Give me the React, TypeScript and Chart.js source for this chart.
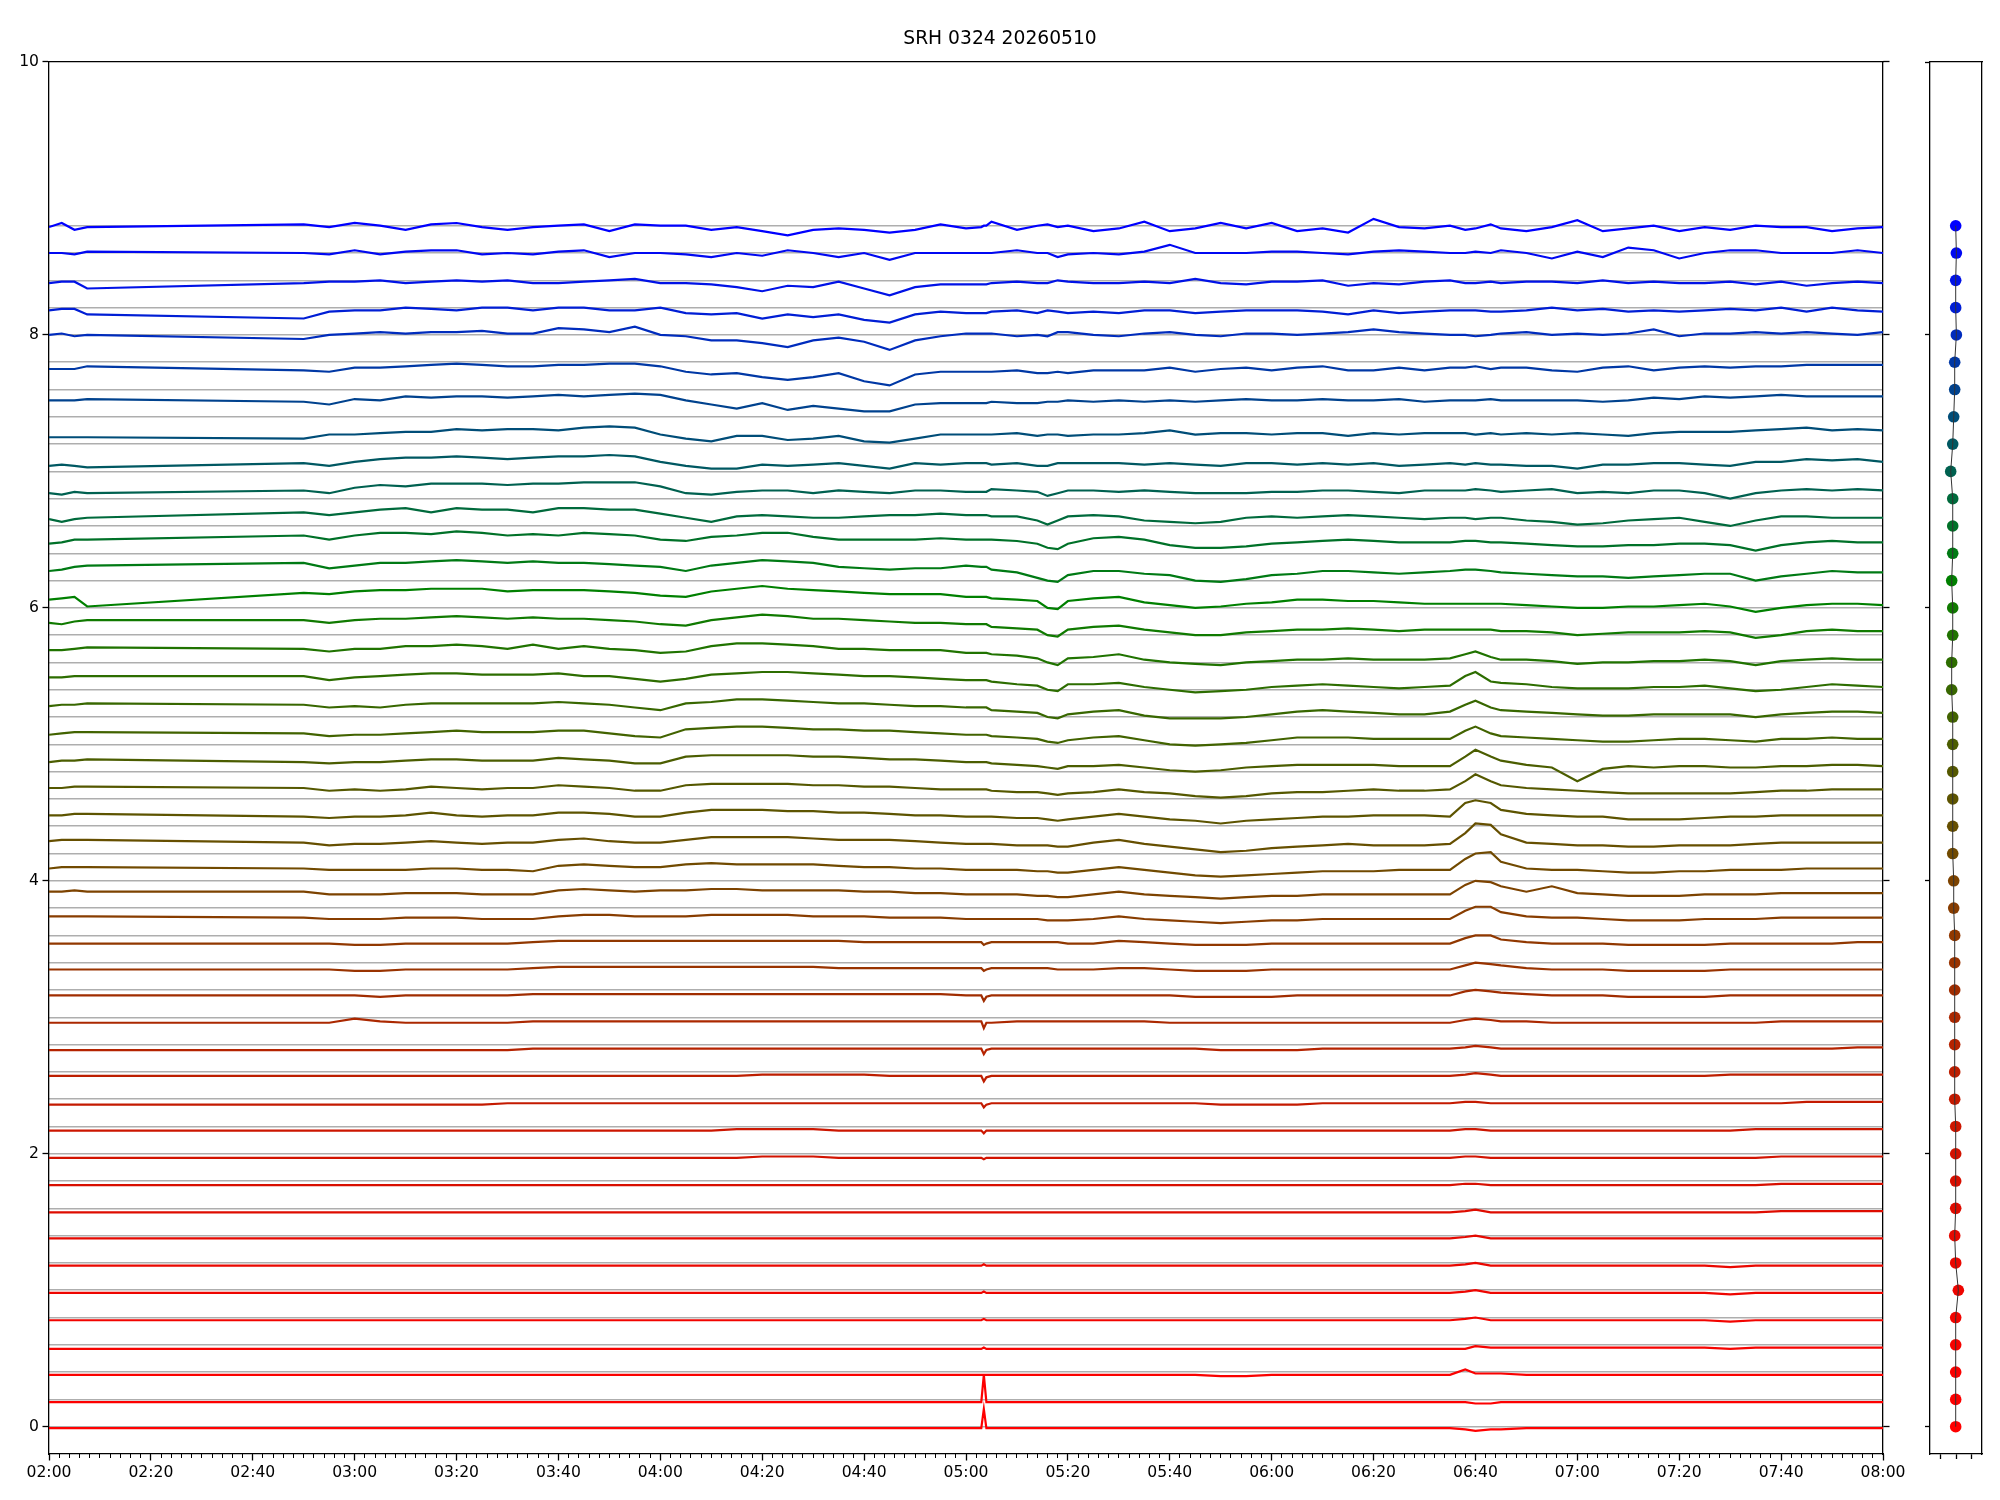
import React, { useEffect, useRef } from "react";
import { Chart, registerables } from "chart.js";

Chart.register(...registerables);

const TITLE = "SRH 0324 20260510";

// sample times, minutes after 02:00
const TIMES = [0, 2.5, 5, 7.5, 50, 55, 60, 65, 70, 75, 80, 85, 90, 95, 100, 105, 110, 115, 120, 125, 130, 135, 140, 145, 150, 155, 160, 165, 170, 175, 180, 183, 183.5, 184, 185, 190, 194, 196, 198, 200, 205, 210, 215, 220, 225, 230, 235, 240, 245, 250, 255, 260, 265, 270, 275, 278, 280, 283, 285, 290, 295, 300, 305, 310, 315, 320, 325, 330, 335, 340, 345, 350, 355, 360];

const X_TICK_LABELS = ["02:00", "02:20", "02:40", "03:00", "03:20", "03:40", "04:00", "04:20", "04:40", "05:00", "05:20", "05:40", "06:00", "06:20", "06:40", "07:00", "07:20", "07:40", "08:00"];

// channel levels (bottom to top)
const LEVELS = [0, 0.2, 0.4, 0.6, 0.8, 1.0, 1.2, 1.4, 1.6, 1.8, 2.0, 2.2, 2.4, 2.6, 2.8, 3.0, 3.2, 3.4, 3.6, 3.8, 4.0, 4.2, 4.4, 4.6, 4.8, 5.0, 5.2, 5.4, 5.6, 5.8, 6.0, 6.2, 6.4, 6.6, 6.8, 7.0, 7.2, 7.4, 7.6, 7.8, 8.0, 8.2, 8.4, 8.6, 8.8];

// right panel marker x positions
const SIDE_X = [0.494, 0.494, 0.494, 0.494, 0.494, 0.545, 0.494, 0.475, 0.494, 0.494, 0.494, 0.494, 0.475, 0.475, 0.475, 0.475, 0.475, 0.475, 0.475, 0.456, 0.456, 0.437, 0.437, 0.437, 0.437, 0.437, 0.437, 0.417, 0.417, 0.437, 0.437, 0.417, 0.437, 0.437, 0.437, 0.398, 0.437, 0.456, 0.475, 0.475, 0.507, 0.494, 0.494, 0.507, 0.494];

// offsets of each trace from its level, in hundredths
const OFF_0_0 = [-1,-1,-1,-1, -1,-1,-1,-1,-1,-1,-1,-1,-1,-1,-1,-1,-1,-1,-1, -1,-1,-1,-1,-1,-1,-1,-1,-1,-1,-1,-1, -1,13,-1,-1,-1,-1,-1,-1,-1, -1,-1,-1,-1,-1,-1,-1,-1,-1,-1,-1,-1,-1,-1,-1, -2,-3,-2, -2,-1,-1,-1,-1,-1,-1,-1,-1,-1,-1,-1,-1,-1,-1,-1];
const OFF_0_2 = [-2,-2,-2,-2, -2,-2,-2,-2,-2,-2,-2,-2,-2,-2,-2,-2,-2,-2,-2, -2,-2,-2,-2,-2,-2,-2,-2,-2,-2,-2,-2, -2,18,-2,-2,-2,-2,-2,-2,-2, -2,-2,-2,-2,-2,-2,-2,-2,-2,-2,-2,-2,-2,-2,-2, -2,-3,-3, -2,-2,-2,-2,-2,-2,-2,-2,-2,-2,-2,-2,-2,-2,-2,-2];
const OFF_0_4 = [-2,-2,-2,-2, -2,-2,-2,-2,-2,-2,-2,-2,-2,-2,-2,-2,-2,-2,-2, -2,-2,-2,-2,-2,-2,-2,-2,-2,-2,-2,-2, -2,-2,-2,-2,-2,-2,-2,-2,-2, -2,-2,-2,-2,-2,-3,-3,-2,-2,-2,-2,-2,-2,-2,-2, 2,-1,-1, -1,-2,-2,-2,-2,-2,-2,-2,-2,-2,-2,-2,-2,-2,-2,-2];
const OFF_0_6 = [-3,-3,-3,-3, -3,-3,-3,-3,-3,-3,-3,-3,-3,-3,-3,-3,-3,-3,-3, -3,-3,-3,-3,-3,-3,-3,-3,-3,-3,-3,-3, -3,-2,-3,-3,-3,-3,-3,-3,-3, -3,-3,-3,-3,-3,-3,-3,-3,-3,-3,-3,-3,-3,-3,-3, -3,-1,-2, -2,-2,-2,-2,-2,-2,-2,-2,-2,-3,-2,-2,-2,-2,-2,-2];
const OFF_0_8 = [-2,-2,-2,-2, -2,-2,-2,-2,-2,-2,-2,-2,-2,-2,-2,-2,-2,-2,-2, -2,-2,-2,-2,-2,-2,-2,-2,-2,-2,-2,-2, -2,-1,-2,-2,-2,-2,-2,-2,-2, -2,-2,-2,-2,-2,-2,-2,-2,-2,-2,-2,-2,-2,-2,-2, -1,0,-2, -2,-2,-2,-2,-2,-2,-2,-2,-2,-3,-2,-2,-2,-2,-2,-2];
const OFF_1_0 = [-2,-2,-2,-2, -2,-2,-2,-2,-2,-2,-2,-2,-2,-2,-2,-2,-2,-2,-2, -2,-2,-2,-2,-2,-2,-2,-2,-2,-2,-2,-2, -2,-1,-2,-2,-2,-2,-2,-2,-2, -2,-2,-2,-2,-2,-2,-2,-2,-2,-2,-2,-2,-2,-2,-2, -1,0,-2, -2,-2,-2,-2,-2,-2,-2,-2,-2,-3,-2,-2,-2,-2,-2,-2];
const OFF_1_2 = [-2,-2,-2,-2, -2,-2,-2,-2,-2,-2,-2,-2,-2,-2,-2,-2,-2,-2,-2, -2,-2,-2,-2,-2,-2,-2,-2,-2,-2,-2,-2, -2,-1,-2,-2,-2,-2,-2,-2,-2, -2,-2,-2,-2,-2,-2,-2,-2,-2,-2,-2,-2,-2,-2,-2, -1,0,-2, -2,-2,-2,-2,-2,-2,-2,-2,-2,-3,-2,-2,-2,-2,-2,-2];
const OFF_1_4 = [-2,-2,-2,-2, -2,-2,-2,-2,-2,-2,-2,-2,-2,-2,-2,-2,-2,-2,-2, -2,-2,-2,-2,-2,-2,-2,-2,-2,-2,-2,-2, -2,-2,-2,-2,-2,-2,-2,-2,-2, -2,-2,-2,-2,-2,-2,-2,-2,-2,-2,-2,-2,-2,-2,-2, -1,0,-2, -2,-2,-2,-2,-2,-2,-2,-2,-2,-2,-2,-2,-2,-2,-2,-2];
const OFF_1_6 = [-3,-3,-3,-3, -3,-3,-3,-3,-3,-3,-3,-3,-3,-3,-3,-3,-3,-3,-3, -3,-3,-3,-3,-3,-3,-3,-3,-3,-3,-3,-3, -3,-3,-3,-3,-3,-3,-3,-3,-3, -3,-3,-3,-3,-3,-3,-3,-3,-3,-3,-3,-3,-3,-3,-3, -2,-1,-3, -3,-3,-3,-3,-3,-3,-3,-3,-3,-3,-3,-2,-2,-2,-2,-2];
const OFF_1_8 = [-3,-3,-3,-3, -3,-3,-3,-3,-3,-3,-3,-3,-3,-3,-3,-3,-3,-3,-3, -3,-3,-3,-3,-3,-3,-3,-3,-3,-3,-3,-3, -3,-3,-3,-3,-3,-3,-3,-3,-3, -3,-3,-3,-3,-3,-3,-3,-3,-3,-3,-3,-3,-3,-3,-3, -2,-2,-3, -3,-3,-3,-3,-3,-3,-3,-3,-3,-3,-3,-2,-2,-2,-2,-2];
const OFF_2_0 = [-3,-3,-3,-3, -3,-3,-3,-3,-3,-3,-3,-3,-3,-3,-3,-3,-3,-3,-3, -3,-3,-3,-2,-2,-2,-3,-3,-3,-3,-3,-3, -3,-4,-3,-3,-3,-3,-3,-3,-3, -3,-3,-3,-3,-3,-3,-3,-3,-3,-3,-3,-3,-3,-3,-3, -2,-2,-3, -3,-3,-3,-3,-3,-3,-3,-3,-3,-3,-3,-2,-2,-2,-2,-2];
const OFF_2_2 = [-3,-3,-3,-3, -3,-3,-3,-3,-3,-3,-3,-3,-3,-3,-3,-3,-3,-3,-3, -3,-3,-2,-2,-2,-2,-3,-3,-3,-3,-3,-3, -3,-5,-3,-3,-3,-3,-3,-3,-3, -3,-3,-3,-3,-3,-3,-3,-3,-3,-3,-3,-3,-3,-3,-3, -2,-2,-3, -3,-3,-3,-3,-3,-3,-3,-3,-3,-3,-2,-2,-2,-2,-2,-2];
const OFF_2_4 = [-4,-4,-4,-4, -4,-4,-4,-4,-4,-4,-4,-4,-3,-3,-3,-3,-3,-3,-3, -3,-3,-3,-3,-3,-3,-3,-3,-3,-3,-3,-3, -3,-6,-4,-3,-3,-3,-3,-3,-3, -3,-3,-3,-3,-3,-4,-4,-4,-4,-3,-3,-3,-3,-3,-3, -2,-2,-3, -3,-3,-3,-3,-3,-3,-3,-3,-3,-3,-3,-3,-2,-2,-2,-2];
const OFF_2_6 = [-3,-3,-3,-3, -3,-3,-3,-3,-3,-3,-3,-3,-3,-3,-3,-3,-3,-3,-3, -3,-3,-3,-2,-2,-2,-2,-2,-3,-3,-3,-3, -3,-7,-4,-3,-3,-3,-3,-3,-3, -3,-3,-3,-3,-3,-3,-3,-3,-3,-3,-3,-3,-3,-3,-3, -2,-1,-2, -3,-3,-3,-3,-3,-3,-3,-3,-3,-2,-2,-2,-2,-2,-2,-2];
const OFF_2_8 = [-4,-4,-4,-4, -4,-4,-4,-4,-4,-4,-4,-4,-4,-3,-3,-3,-3,-3,-3, -3,-3,-3,-3,-3,-3,-3,-3,-3,-3,-3,-3, -3,-7,-4,-3,-3,-3,-3,-3,-3, -3,-3,-3,-3,-3,-4,-4,-4,-4,-3,-3,-3,-3,-3,-3, -2,-1,-2, -3,-3,-3,-3,-3,-3,-3,-3,-3,-3,-3,-3,-3,-3,-2,-2];
const OFF_3_0 = [-4,-4,-4,-4, -4,-4,-1,-3,-4,-4,-4,-4,-4,-3,-3,-3,-3,-3,-3, -3,-3,-3,-3,-3,-3,-3,-3,-3,-3,-3,-3, -3,-8,-4,-4,-3,-3,-3,-3,-3, -3,-3,-3,-4,-4,-4,-4,-4,-4,-4,-4,-4,-4,-4,-4, -2,-1,-2, -3,-3,-4,-4,-4,-4,-4,-4,-4,-4,-4,-3,-3,-3,-3,-3];
const OFF_3_2 = [-4,-4,-4,-4, -4,-4,-4,-5,-4,-4,-4,-4,-4,-3,-3,-3,-3,-3,-3, -3,-3,-3,-3,-3,-3,-3,-3,-3,-3,-3,-4, -4,-8,-5,-4,-4,-4,-4,-4,-4, -4,-4,-4,-4,-5,-5,-5,-5,-4,-4,-4,-4,-4,-4,-4, -1,0,-1, -2,-3,-4,-4,-4,-5,-5,-5,-5,-4,-4,-4,-4,-4,-4,-4];
const OFF_3_4 = [-5,-5,-5,-5, -5,-5,-6,-6,-5,-5,-5,-5,-5,-4,-3,-3,-3,-3,-3, -3,-3,-3,-3,-3,-3,-4,-4,-4,-4,-4,-4, -4,-6,-5,-4,-4,-4,-4,-5,-5, -5,-4,-4,-5,-6,-6,-6,-5,-5,-5,-5,-5,-5,-5,-5, -2,0,-1, -2,-4,-5,-5,-5,-6,-6,-6,-6,-5,-5,-5,-5,-5,-5,-5];
const OFF_3_6 = [-6,-6,-6,-6, -6,-6,-7,-7,-6,-6,-6,-6,-6,-5,-4,-4,-4,-4,-4, -4,-4,-4,-4,-4,-4,-4,-5,-5,-5,-5,-5, -5,-7,-6,-5,-5,-5,-5,-5,-6, -6,-4,-5,-6,-7,-7,-7,-6,-6,-6,-6,-6,-6,-6,-6, -2,0,0, -3,-5,-6,-6,-6,-7,-7,-7,-7,-6,-6,-6,-6,-6,-5,-5];
const OFF_3_8 = [-6,-6,-6,-6, -7,-8,-8,-8,-7,-7,-7,-8,-8,-8,-6,-5,-5,-6,-6, -6,-5,-5,-5,-5,-6,-6,-6,-7,-7,-7,-8, -8,-8,-8,-8,-8,-8,-9,-9,-9, -8,-6,-8,-9,-10,-11,-10,-9,-9,-8,-8,-8,-8,-8,-8, -2,1,1, -3,-6,-7,-7,-8,-9,-9,-9,-8,-8,-8,-7,-7,-7,-7,-7];
const OFF_4_0 = [-8,-8,-7,-8, -8,-10,-10,-10,-9,-9,-9,-10,-10,-10,-7,-6,-7,-8,-7, -7,-6,-6,-7,-7,-7,-7,-8,-8,-9,-9,-10, -10,-10,-10,-10,-10,-11,-11,-12,-12, -10,-8,-10,-11,-12,-13,-12,-11,-11,-10,-10,-10,-10,-10,-10, -3,0,-1, -4,-8,-4,-9,-10,-11,-11,-11,-10,-10,-10,-9,-9,-9,-9,-9];
const OFF_4_2 = [-11,-10,-10,-10, -11,-12,-12,-12,-12,-11,-11,-12,-12,-13,-9,-8,-9,-10,-10, -8,-7,-8,-8,-8,-8,-9,-10,-10,-11,-11,-12, -12,-12,-12,-12,-12,-13,-13,-14,-14, -12,-10,-12,-14,-16,-17,-16,-15,-14,-13,-13,-13,-12,-12,-12, -4,0,1, -6,-11,-12,-12,-13,-14,-14,-13,-13,-12,-12,-12,-11,-11,-11,-11];
const OFF_4_4 = [-11,-10,-10,-10, -12,-14,-13,-13,-12,-11,-12,-13,-12,-12,-10,-9,-11,-12,-12, -10,-8,-8,-8,-8,-9,-10,-10,-10,-11,-12,-13, -13,-13,-13,-13,-14,-14,-14,-15,-15, -12,-10,-13,-15,-17,-19,-18,-16,-15,-14,-13,-14,-14,-14,-13, -5,2,1, -6,-12,-13,-14,-14,-15,-15,-14,-14,-14,-13,-12,-12,-12,-12,-12];
const OFF_4_6 = [-12,-12,-11,-11, -13,-14,-13,-13,-12,-10,-12,-13,-12,-12,-10,-10,-11,-13,-13, -10,-8,-8,-8,-9,-9,-10,-10,-11,-12,-12,-13, -13,-13,-13,-13,-14,-14,-15,-16,-15, -13,-11,-13,-15,-16,-18,-16,-15,-14,-13,-13,-12,-12,-12,-13, -3,-1,-3, -8,-11,-12,-13,-13,-15,-15,-15,-14,-13,-13,-12,-12,-12,-12,-12];
const OFF_4_8 = [-12,-12,-11,-11, -12,-14,-13,-14,-13,-11,-12,-13,-12,-12,-10,-11,-12,-14,-14, -10,-9,-9,-9,-9,-10,-10,-11,-11,-12,-13,-13, -13,-13,-13,-14,-15,-15,-16,-17,-16, -15,-13,-15,-16,-18,-19,-18,-16,-15,-15,-14,-13,-14,-14,-13, -7,-2,-7, -10,-12,-13,-14,-15,-16,-16,-16,-16,-16,-15,-14,-14,-13,-13,-13];
const OFF_5_0 = [-13,-12,-12,-11, -13,-14,-13,-13,-12,-11,-11,-12,-12,-12,-10,-11,-12,-14,-14, -9,-8,-8,-8,-8,-9,-9,-10,-11,-11,-12,-13, -13,-13,-13,-14,-15,-16,-17,-18,-16, -16,-15,-17,-19,-20,-19,-17,-16,-15,-15,-15,-15,-16,-16,-16, -9,-4,-9, -12,-15,-17,-27,-18,-16,-17,-16,-16,-17,-17,-16,-16,-15,-15,-16];
const OFF_5_2 = [-13,-12,-11,-11, -12,-14,-13,-13,-12,-11,-10,-11,-11,-11,-10,-10,-12,-14,-15, -9,-8,-7,-7,-8,-9,-9,-10,-10,-11,-12,-13, -13,-13,-13,-14,-15,-16,-18,-19,-17, -15,-14,-17,-20,-21,-20,-19,-17,-15,-15,-15,-16,-16,-16,-16, -10,-7,-12, -14,-15,-16,-17,-18,-18,-17,-16,-16,-17,-18,-16,-16,-15,-16,-16];
const OFF_5_4 = [-12,-11,-11,-10, -11,-13,-12,-13,-11,-10,-10,-10,-10,-10,-9,-10,-11,-13,-15, -10,-9,-7,-7,-8,-9,-10,-10,-11,-12,-12,-13, -13,-13,-13,-15,-16,-17,-20,-21,-18, -16,-15,-19,-21,-21,-21,-20,-18,-16,-15,-16,-17,-18,-18,-16, -11,-8,-13, -15,-16,-17,-18,-19,-19,-18,-18,-18,-18,-20,-18,-17,-16,-16,-17];
const OFF_5_6 = [-11,-11,-10,-10, -10,-13,-11,-10,-9,-8,-8,-9,-9,-9,-8,-10,-10,-12,-14, -12,-9,-8,-7,-7,-8,-9,-10,-10,-11,-12,-13, -13,-13,-13,-14,-16,-17,-20,-21,-16, -16,-15,-18,-20,-22,-21,-20,-18,-17,-16,-17,-18,-19,-18,-17, -10,-7,-14, -15,-16,-18,-19,-19,-19,-18,-18,-17,-19,-21,-20,-18,-16,-17,-18];
const OFF_5_8 = [-11,-11,-10,-9, -10,-12,-10,-10,-8,-8,-7,-8,-10,-7,-10,-8,-10,-11,-13, -12,-8,-6,-6,-7,-8,-10,-10,-11,-11,-11,-13, -13,-13,-13,-14,-15,-17,-20,-22,-17, -16,-14,-18,-20,-21,-22,-20,-19,-18,-18,-17,-18,-18,-18,-17, -14,-12,-16, -18,-18,-19,-21,-20,-20,-19,-19,-18,-19,-22,-19,-18,-17,-18,-18];
const OFF_6_0 = [-11,-12,-10,-9, -9,-11,-9,-8,-8,-7,-6,-7,-8,-7,-8,-8,-9,-10,-12, -13,-9,-7,-5,-6,-8,-8,-9,-10,-11,-11,-12, -12,-12,-12,-14,-15,-16,-20,-21,-16, -14,-13,-16,-18,-20,-20,-18,-17,-16,-16,-15,-16,-17,-16,-16, -16,-16,-16, -17,-17,-18,-20,-19,-18,-18,-18,-17,-18,-22,-20,-17,-16,-17,-17];
const OFF_6_2 = [-14,-13,-12,-19, -9,-10,-8,-7,-7,-6,-6,-6,-8,-7,-7,-7,-8,-9,-11, -12,-8,-6,-4,-6,-7,-8,-9,-10,-10,-10,-12, -12,-12,-12,-13,-14,-15,-20,-21,-15, -13,-12,-16,-18,-20,-19,-17,-16,-14,-14,-15,-15,-16,-17,-17, -17,-17,-17, -17,-18,-19,-20,-20,-19,-19,-18,-17,-19,-23,-20,-18,-17,-17,-18];
const OFF_6_4 = [-13,-12,-10,-9, -7,-11,-9,-7,-7,-6,-5,-6,-7,-6,-7,-7,-8,-9,-10, -13,-9,-7,-5,-6,-7,-10,-11,-12,-11,-11,-9, -10,-10,-10,-12,-14,-18,-20,-21,-16, -13,-13,-15,-16,-20,-21,-19,-16,-15,-13,-13,-14,-15,-14,-13, -12,-12,-13, -14,-15,-16,-17,-17,-18,-17,-16,-15,-15,-20,-17,-15,-13,-14,-14];
const OFF_6_6 = [-13,-12,-10,-10, -7,-10,-7,-5,-5,-6,-4,-5,-7,-6,-7,-5,-6,-7,-10, -11,-8,-7,-5,-5,-8,-10,-10,-10,-10,-9,-10, -10,-10,-10,-10,-11,-13,-16,-17,-13, -9,-8,-10,-14,-16,-16,-15,-13,-12,-11,-10,-11,-12,-12,-12, -11,-11,-12, -12,-13,-14,-15,-15,-14,-14,-13,-13,-14,-18,-14,-12,-11,-12,-12];
const OFF_6_8 = [-15,-17,-15,-14, -10,-12,-10,-8,-7,-10,-7,-8,-8,-10,-7,-7,-8,-8,-11, -14,-17,-13,-12,-13,-14,-14,-13,-12,-12,-11,-12, -12,-12,-12,-13,-13,-16,-19,-16,-13, -12,-13,-16,-17,-18,-17,-14,-13,-14,-13,-12,-13,-14,-15,-14, -14,-15,-14, -14,-16,-17,-19,-18,-16,-15,-14,-17,-20,-16,-13,-13,-14,-14,-14];
const OFF_7_0 = [-16,-17,-15,-16, -14,-16,-12,-10,-11,-9,-9,-9,-10,-9,-9,-8,-8,-8,-11, -16,-17,-15,-14,-14,-16,-14,-15,-16,-14,-14,-15, -15,-15,-15,-13,-14,-15,-18,-16,-14, -14,-15,-14,-15,-16,-16,-16,-15,-15,-14,-14,-15,-16,-14,-14, -14,-13,-14, -15,-14,-13,-16,-15,-16,-14,-14,-16,-20,-16,-14,-13,-14,-13,-14];
const OFF_7_2 = [-16,-15,-16,-17, -14,-16,-13,-11,-10,-10,-9,-10,-11,-10,-9,-9,-8,-9,-13, -16,-18,-18,-15,-16,-15,-14,-16,-18,-14,-15,-14, -14,-14,-14,-15,-14,-16,-16,-14,-14, -14,-14,-15,-14,-15,-16,-14,-14,-15,-14,-15,-14,-16,-15,-14, -15,-14,-15, -15,-16,-16,-18,-15,-15,-14,-14,-15,-16,-13,-13,-11,-12,-11,-13];
const OFF_7_4 = [-15,-15,-15,-15, -16,-13,-13,-12,-11,-11,-9,-10,-9,-9,-10,-8,-7,-8,-13, -16,-18,-14,-14,-17,-16,-14,-18,-19,-16,-13,-13, -13,-13,-13,-13,-12,-14,-13,-13,-14, -13,-13,-12,-10,-13,-12,-12,-13,-12,-12,-14,-12,-13,-12,-12, -12,-13,-12, -13,-12,-13,-12,-13,-14,-12,-11,-11,-11,-10,-9,-8,-10,-9,-10];
const OFF_7_6 = [-8,-8,-8,-7, -9,-11,-7,-8,-5,-6,-5,-5,-6,-5,-4,-5,-4,-3,-4, -8,-11,-14,-10,-15,-12,-14,-16,-16,-11,-10,-10, -10,-10,-10,-9,-10,-10,-9,-9,-8, -9,-8,-9,-8,-9,-8,-7,-8,-8,-7,-8,-8,-7,-9,-8, -8,-8,-7, -8,-8,-8,-8,-9,-8,-6,-7,-5,-6,-5,-4,-5,-5,-5,-5];
const OFF_7_8 = [-5,-5,-5,-3, -6,-7,-4,-4,-3,-2,-1,-2,-3,-3,-2,-2,-1,-1,-3, -7,-9,-8,-11,-13,-11,-8,-14,-17,-9,-7,-7, -7,-7,-7,-7,-6,-8,-8,-7,-8, -6,-6,-6,-4,-7,-5,-4,-6,-4,-3,-6,-6,-4,-6,-4, -4,-3,-5, -4,-4,-6,-7,-4,-3,-6,-4,-3,-4,-3,-3,-2,-2,-2,-2];
const OFF_8_0 = [0,1,-1,0, -3,0,1,2,1,2,2,3,1,1,5,4,2,6,0, -1,-4,-4,-6,-9,-4,-2,-5,-11,-4,-1,1, 1,1,1,1,-1,0,-1,2,2, 0,-1,1,2,0,-1,1,1,0,1,2,4,2,1,0, 0,-1,0, 1,2,0,1,0,1,4,-1,1,1,2,1,2,1,0,2];
const OFF_8_2 = [-2,-1,-1,-5, -8,-3,-2,-2,0,-1,-2,0,0,-2,0,0,-2,-2,0, -4,-5,-4,-8,-5,-7,-5,-9,-11,-5,-3,-4, -4,-4,-4,-3,-2,-4,-2,-3,-4, -3,-4,-2,-2,-4,-3,-2,-2,-2,-3,-5,-2,-4,-3,-2, -2,-2,-3, -3,-2,0,-2,-1,-3,-2,-3,-2,-1,-2,0,-3,0,-2,-3];
const OFF_8_4 = [-2,-1,-1,-6, -2,-1,-1,0,-2,-1,0,-1,0,-2,-2,-1,0,1,-2, -2,-3,-5,-8,-4,-5,-1,-6,-11,-5,-3,-3, -3,-3,-3,-2,-1,-2,-2,0,-1, -2,-2,-1,-2,1,-2,-3,-1,-1,0,-4,-2,-3,-1,0, -2,-2,-1, -2,-1,-1,-2,0,-2,-1,-2,-2,-1,-3,-1,-4,-2,-1,-2];
const OFF_8_6 = [0,0,-1,1, 0,-1,2,-1,1,2,2,-1,0,-1,1,2,-3,0,0, -1,-3,0,-2,2,0,-3,0,-5,0,0,0, 0,0,0,0,2,0,0,-3,-1, 0,-1,1,6,0,0,0,1,1,0,-1,1,2,1,0, 0,1,0, 2,0,-4,1,-3,4,2,-4,0,2,2,0,0,0,2,0];
const OFF_8_8 = [-1,2,-3,-1, 1,-1,2,0,-3,1,2,-1,-3,-1,0,1,-4,1,0, 0,-3,-1,-4,-7,-3,-2,-3,-5,-3,1,-2, -1,0,0,3,-3,0,1,-1,0, -4,-2,3,-4,-2,2,-2,2,-4,-2,-5,5,-1,-2,0, -3,-2,1, -2,-4,-1,4,-4,-2,0,-4,-1,-3,0,-1,-1,-4,-2,-1];

const SERIES = [OFF_0_0, OFF_0_2, OFF_0_4, OFF_0_6, OFF_0_8, OFF_1_0, OFF_1_2, OFF_1_4, OFF_1_6, OFF_1_8, OFF_2_0, OFF_2_2, OFF_2_4, OFF_2_6, OFF_2_8, OFF_3_0, OFF_3_2, OFF_3_4, OFF_3_6, OFF_3_8, OFF_4_0, OFF_4_2, OFF_4_4, OFF_4_6, OFF_4_8, OFF_5_0, OFF_5_2, OFF_5_4, OFF_5_6, OFF_5_8, OFF_6_0, OFF_6_2, OFF_6_4, OFF_6_6, OFF_6_8, OFF_7_0, OFF_7_2, OFF_7_4, OFF_7_6, OFF_7_8, OFF_8_0, OFF_8_2, OFF_8_4, OFF_8_6, OFF_8_8];

// trace colours (style), bottom to top
const COLORS = ["#ff0000", "#fd0000", "#fa0100", "#f60300", "#f20400", "#ee0500", "#ea0700", "#e50900", "#de0c00", "#d80f00", "#d21300", "#cc1600", "#c41a00", "#bd1e00", "#b52300", "#ab2800", "#a02d00", "#993300", "#913800", "#883d00", "#7d4300", "#714a00", "#664f00", "#5d5400", "#555800", "#4b5d00", "#426300", "#386700", "#2d6d00", "#207300", "#107a00", "#008000", "#007a14", "#007128", "#006a3c", "#006150", "#005862", "#004d78", "#00428e", "#0038a5", "#002cbd", "#001ed5", "#0012e6", "#0008f2", "#0000ff"];

const FRAME = { display: true, color: "#000", width: 1.3 };

export default function App() {
  const mainRef = useRef<HTMLCanvasElement>(null);
  const sideRef = useRef<HTMLCanvasElement>(null);

  useEffect(() => {
    Chart.defaults.font.family = "'DejaVu Sans', sans-serif";
    Chart.defaults.font.size = 15.6;
    Chart.defaults.color = "#000";

    SERIES.forEach((s, i) => {
      if (s.length !== TIMES.length) console.error("length mismatch", i, s.length);
    });

    const datasets: any[] = LEVELS.map((lv, i) => ({
      type: "line",
      data: TIMES.map((t, j) => ({ x: t, y: lv + SERIES[i][j] / 100 })),
      borderColor: COLORS[i],
      borderWidth: 2.2,
      pointRadius: 0,
      tension: 0,
      fill: false,
      xAxisID: "x",
      yAxisID: "y",
    }));

    const main = new Chart(mainRef.current!, {
      type: "line",
      data: { datasets },
      options: {
        animation: false,
        responsive: false,
        events: [],
        layout: { padding: 0 },
        plugins: {
          legend: { display: false },
          tooltip: { enabled: false },
          title: {
            display: true,
            text: TITLE,
            color: "#000",
            font: { size: 18.7, weight: "normal" },
            padding: { top: 28, bottom: 11.5 },
          },
        },
        scales: {
          x: {
            type: "linear",
            position: "bottom",
            weight: 1,
            min: 0,
            max: 360,
            ticks: {
              stepSize: 20,
              autoSkip: false,
              maxRotation: 0,
              padding: 3,
              includeBounds: false,
              callback: (v: any) => X_TICK_LABELS[Math.round(Number(v) / 20)] ?? "",
            },
            grid: { drawOnChartArea: false, tickLength: 6.5, tickWidth: 1.3, tickColor: "#000" },
            border: FRAME,
            afterFit: (s: any) => { s.height = 46; },
          },
          xMinor: {
            type: "linear",
            position: "bottom",
            weight: 0,
            min: 0,
            max: 360,
            ticks: { stepSize: 2, display: false, includeBounds: false },
            grid: { drawOnChartArea: false, tickLength: 4, tickWidth: 1, tickColor: "#000" },
            border: { display: false },
            afterFit: (s: any) => { s.height = 0; },
          },
          xTop: {
            type: "linear",
            position: "top",
            min: 0,
            max: 360,
            ticks: { display: false },
            grid: { display: false },
            border: FRAME,
            afterFit: (s: any) => { s.height = 0; },
          },
          y: {
            type: "linear",
            position: "left",
            weight: 1,
            min: -0.2,
            max: 10,
            ticks: { stepSize: 2, includeBounds: false, padding: 3.5 },
            grid: { drawOnChartArea: false, tickLength: 6.5, tickWidth: 1.3, tickColor: "#000" },
            border: FRAME,
            afterFit: (s: any) => { s.width = 49; },
          },
          yGrid: {
            type: "linear",
            position: "left",
            weight: 0,
            min: -0.2,
            max: 10,
            ticks: { stepSize: 0.2, display: false, includeBounds: false },
            grid: {
              drawOnChartArea: true,
              drawTicks: false,
              lineWidth: 1.5,
              color: (ctx: any) => {
                const v = ctx.tick ? ctx.tick.value : -1;
                return v > -0.05 && v < 8.85 ? "rgba(165,165,165,0.9)" : "rgba(0,0,0,0)";
              },
            },
            border: { display: false },
            afterFit: (s: any) => { s.width = 0; },
          },
          yR: {
            type: "linear",
            position: "right",
            min: -0.2,
            max: 10,
            ticks: { stepSize: 2, includeBounds: false, callback: () => "" },
            grid: { drawOnChartArea: false, tickLength: 6.5, tickWidth: 1.3, tickColor: "#000" },
            border: FRAME,
            afterFit: (s: any) => { s.width = 117; },
          },
        },
      } as any,
    });

    const sidePts = LEVELS.map((lv, i) => ({ x: SIDE_X[i], y: lv }));
    const side = new Chart(sideRef.current!, {
      type: "scatter",
      data: {
        datasets: [
          {
            type: "line",
            data: sidePts,
            borderColor: "#333",
            borderWidth: 1,
            pointRadius: 0,
            tension: 0,
            order: 1,
          } as any,
          {
            type: "scatter",
            data: sidePts,
            pointRadius: 5.8,
            pointBackgroundColor: COLORS,
            pointBorderWidth: 0,
            order: 2,
          } as any,
        ],
      },
      options: {
        animation: false,
        responsive: false,
        events: [],
        layout: { padding: { top: 62 } },
        plugins: { legend: { display: false }, tooltip: { enabled: false }, title: { display: false } },
        scales: {
          x: {
            type: "linear",
            position: "bottom",
            min: 0,
            max: 1,
            afterBuildTicks: (s: any) => { s.ticks = [{ value: 0.2 }, { value: 0.5 }, { value: 0.8 }]; },
            ticks: { display: false },
            grid: { drawOnChartArea: false, tickLength: 5, tickWidth: 1.3, tickColor: "#000" },
            border: FRAME,
            afterFit: (s: any) => { s.height = 46; },
          },
          xTop: {
            type: "linear",
            position: "top",
            min: 0,
            max: 1,
            ticks: { display: false },
            grid: { display: false },
            border: FRAME,
            afterFit: (s: any) => { s.height = 0; },
          },
          y: {
            type: "linear",
            position: "left",
            min: -0.2,
            max: 10,
            ticks: { stepSize: 2, includeBounds: false, display: false },
            grid: { drawOnChartArea: false, tickLength: 5, tickWidth: 1.3, tickColor: "#000" },
            border: FRAME,
            afterFit: (s: any) => { s.width = 30; },
          },
          yR: {
            type: "linear",
            position: "right",
            min: -0.2,
            max: 10,
            ticks: { display: false },
            grid: { display: false },
            border: FRAME,
            afterFit: (s: any) => { s.width = 18; },
          },
        },
      } as any,
    });

    return () => {
      main.destroy();
      side.destroy();
    };
  }, []);

  return (
    <div style={{ position: "absolute", left: 0, top: 0, width: 2000, height: 1500, background: "#fff" }}>
      <canvas ref={mainRef} width={2000} height={1500} style={{ position: "absolute", left: 0, top: 0, width: 2000, height: 1500 }} />
      <canvas ref={sideRef} width={100} height={1500} style={{ position: "absolute", left: 1900, top: 0, width: 100, height: 1500 }} />
    </div>
  );
}
